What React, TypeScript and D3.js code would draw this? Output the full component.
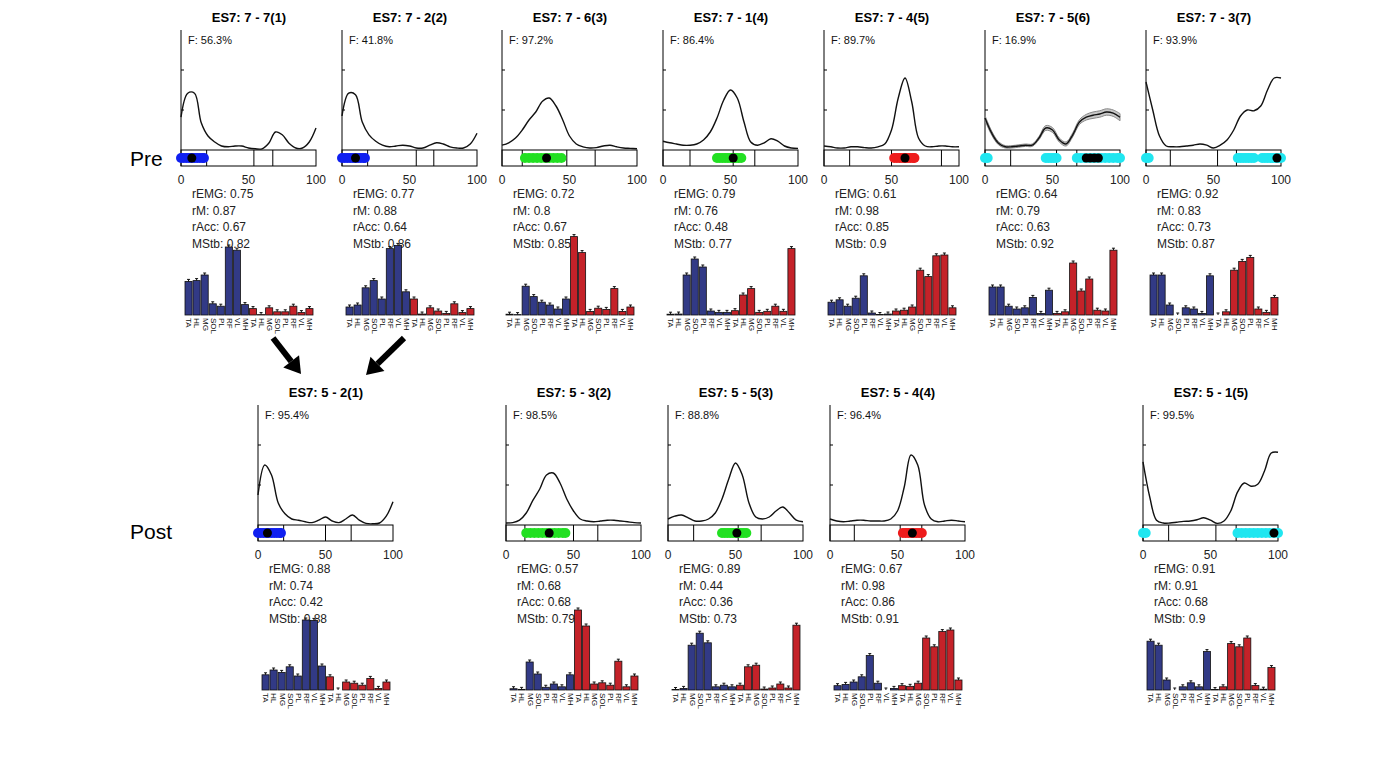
import React from "react";
import * as d3 from "d3";

// ---------- shared ----------
const phase = [0, 5, 10, 15, 20, 25, 30, 35, 40, 45, 50, 55, 60, 65, 70, 75, 80, 85, 90, 95, 100];
const muscles = ["TA", "HL", "MG", "SOL", "PL", "RF", "VL", "MH"];
const barLabels = [...muscles, ...muscles];
const xTicks = [0, 50, 100];
const yTicks = [1, 2];

// ---------- Pre row ----------
const preTitles = ["ES7: 7 - 7(1)", "ES7: 7 - 2(2)", "ES7: 7 - 6(3)", "ES7: 7 - 1(4)", "ES7: 7 - 4(5)", "ES7: 7 - 5(6)", "ES7: 7 - 3(7)"];
const preF = ["56.3", "41.8", "97.2", "86.4", "89.7", "16.9", "93.9"];
const preREMG = [0.75, 0.77, 0.72, 0.79, 0.61, 0.64, 0.92];
const preRM = [0.87, 0.88, 0.8, 0.76, 0.98, 0.79, 0.83];
const preRAcc = [0.67, 0.64, 0.67, 0.48, 0.85, 0.63, 0.73];
const preMStb = [0.82, 0.86, 0.85, 0.77, 0.9, 0.92, 0.87];

const preCurve1 = [0.82, 1.42, 1.42, 0.68, 0.35, 0.2, 0.1, 0.08, 0.1, 0.1, 0.05, 0.03, 0.03, 0.17, 0.45, 0.38, 0.17, 0.05, 0.05, 0.2, 0.55];
const preCurve2 = [0.85, 1.42, 1.38, 0.7, 0.38, 0.22, 0.12, 0.08, 0.1, 0.12, 0.1, 0.05, 0.05, 0.12, 0.18, 0.15, 0.08, 0.05, 0.05, 0.15, 0.42];
const preCurve3 = [0.12, 0.18, 0.3, 0.5, 0.75, 0.95, 1.22, 1.3, 1.1, 0.75, 0.35, 0.15, 0.08, 0.05, 0.06, 0.1, 0.12, 0.08, 0.05, 0.04, 0.03];
const preCurve4 = [0.22, 0.18, 0.15, 0.12, 0.12, 0.15, 0.25, 0.45, 0.8, 1.25, 1.5, 1.3, 0.7, 0.2, 0.12, 0.18, 0.28, 0.22, 0.1, 0.05, 0.04];
const preCurve5 = [0.1, 0.08, 0.05, 0.05, 0.08, 0.08, 0.06, 0.05, 0.08, 0.15, 0.5, 1.3, 1.8, 1.2, 0.3, 0.1, 0.08, 0.1, 0.1, 0.08, 0.08];
const preCurve6 = [0.8, 0.42, 0.17, 0.08, 0.08, 0.1, 0.12, 0.12, 0.3, 0.55, 0.5, 0.25, 0.15, 0.38, 0.7, 0.82, 0.87, 0.9, 0.95, 0.92, 0.82];
const preSd6 = [0.06, 0.05, 0.04, 0.03, 0.03, 0.03, 0.03, 0.03, 0.04, 0.06, 0.06, 0.05, 0.05, 0.05, 0.06, 0.07, 0.08, 0.08, 0.08, 0.08, 0.09];
const preCurve7 = [1.7, 1.0, 0.35, 0.1, 0.08, 0.08, 0.1, 0.12, 0.15, 0.12, 0.05, 0.12, 0.25, 0.5, 0.85, 1.0, 0.98, 1.1, 1.5, 1.8, 1.8];

const preBars1 = [0.42, 0.43, 0.5, 0.14, 0.11, 0.85, 0.81, 0.13, 0.08, 0.005, 0.09, 0.04, 0.04, 0.11, 0.03, 0.08];
const preBars2 = [0.1, 0.125, 0.34, 0.43, 0.2, 0.83, 0.87, 0.29, 0.2, 0.012, 0.09, 0.05, 0.02, 0.14, 0.03, 0.08];
const preBars3 = [0.01, 0.005, 0.36, 0.23, 0.16, 0.125, 0.075, 0.2, 0.98, 0.78, 0.045, 0.085, 0.07, 0.33, 0.045, 0.1];
const preBars4 = [0.01, 0.012, 0.5, 0.7, 0.6, 0.05, 0.033, 0.033, 0.054, 0.25, 0.33, 0.033, 0.046, 0.11, 0.046, 0.83];
const preBars5 = [0.16, 0.19, 0.11, 0.21, 0.49, 0.025, 0.006, 0.012, 0.05, 0.06, 0.1, 0.56, 0.48, 0.74, 0.75, 0.09];
const preBars6 = [0.35, 0.35, 0.11, 0.075, 0.09, 0.22, 0.02, 0.31, 0.02, 0.04, 0.65, 0.3, 0.45, 0.06, 0.05, 0.81];
const preBars7 = [0.5, 0.5, 0.125, 0.0, 0.09, 0.075, 0.02, 0.49, 0.0, 0.04, 0.56, 0.67, 0.72, 0.075, 0.033, 0.22];

const preDots1 = [0, 2, 4, 6, 8, 10, 12, 14, 16, 17];
const preDots2 = [0, 2, 4, 6, 8, 10, 12, 14, 16, 17];
const preDots3 = [17, 20, 23, 26, 29, 32, 35, 38, 41, 44];
const preDots4 = [40, 42, 44, 46, 48, 50, 52, 54, 56, 58];
const preDots5 = [52, 54, 56, 58, 60, 62, 64, 66, 67];
const preDots6 = [0, 2, 45, 47, 49, 51, 53, 68, 71, 74, 77, 80, 83, 86, 89, 92, 95, 98, 100];
const preDots7 = [0, 2, 68, 70, 72, 74, 76, 78, 80, 86, 88, 90, 92, 94, 96, 98, 100];
const preMeans = [[8], [10], [33], [52], [60], [75, 78, 81, 84], [97]];
const preDotColors = ["blue", "blue", "green", "green", "red", "cyan", "cyan"];
const preGait = [[19, 54, 68], [19, 55, 68], [15, 48, 69], [20, 52, 68], [19, 50, 87], [19, 53, 68], [18, 53, 67]];

// ---------- Post row ----------
const postTitles = ["ES7: 5 - 2(1)", "ES7: 5 - 3(2)", "ES7: 5 - 5(3)", "ES7: 5 - 4(4)", "ES7: 5 - 1(5)"];
const postF = ["95.4", "98.5", "88.8", "96.4", "99.5"];
const postREMG = [0.88, 0.57, 0.89, 0.67, 0.91];
const postRM = [0.74, 0.68, 0.44, 0.98, 0.91];
const postRAcc = [0.42, 0.68, 0.36, 0.86, 0.68];
const postMStb = [0.88, 0.79, 0.73, 0.91, 0.9];

const postCurve1 = [0.75, 1.5, 1.25, 0.55, 0.28, 0.15, 0.12, 0.08, 0.06, 0.12, 0.2, 0.1, 0.06, 0.15, 0.25, 0.12, 0.04, 0.03, 0.05, 0.22, 0.58];
const postCurve2 = [0.05, 0.06, 0.12, 0.3, 0.62, 0.9, 1.25, 1.3, 1.05, 0.65, 0.35, 0.15, 0.1, 0.08, 0.1, 0.12, 0.12, 0.1, 0.08, 0.06, 0.05];
const postCurve3 = [0.15, 0.22, 0.25, 0.18, 0.1, 0.1, 0.15, 0.3, 0.65, 1.15, 1.55, 1.25, 0.55, 0.2, 0.15, 0.2, 0.35, 0.45, 0.3, 0.12, 0.08];
const postCurve4 = [0.15, 0.1, 0.08, 0.1, 0.12, 0.12, 0.1, 0.1, 0.1, 0.15, 0.35, 0.95, 1.75, 1.5, 0.5, 0.15, 0.08, 0.1, 0.12, 0.1, 0.08];
const postCurve5 = [1.58, 0.7, 0.12, 0.05, 0.05, 0.07, 0.09, 0.1, 0.13, 0.18, 0.12, 0.04, 0.1, 0.35, 0.82, 1.05, 0.97, 1.02, 1.35, 1.8, 1.82];

const postBars1 = [0.19, 0.25, 0.22, 0.29, 0.175, 0.875, 0.87, 0.3, 0.165, 0.0, 0.1, 0.085, 0.06, 0.145, 0.02, 0.1];
const postBars2 = [0.016, 0.008, 0.35, 0.2, 0.034, 0.075, 0.04, 0.19, 1.0, 0.8, 0.075, 0.09, 0.06, 0.36, 0.04, 0.175];
const postBars3 = [0.006, 0.02, 0.56, 0.71, 0.59, 0.04, 0.06, 0.04, 0.06, 0.29, 0.31, 0.012, 0.025, 0.075, 0.025, 0.81];
const postBars4 = [0.054, 0.07, 0.1, 0.165, 0.43, 0.085, 0.0, 0.02, 0.054, 0.046, 0.085, 0.65, 0.54, 0.73, 0.75, 0.125];
const postBars5 = [0.61, 0.56, 0.125, 0.0, 0.04, 0.09, 0.04, 0.48, 0.005, 0.04, 0.58, 0.54, 0.65, 0.055, 0.01, 0.28];

const postDots1 = [0, 2, 4, 6, 8, 10, 12, 14, 16, 17];
const postDots2 = [15, 18, 21, 24, 27, 30, 33, 36, 39, 42, 44];
const postDots3 = [40, 42, 44, 46, 48, 50, 52, 54, 56, 58];
const postDots4 = [54, 56, 58, 60, 62, 64, 66, 68];
const postDots5 = [0, 2, 70, 73, 76, 79, 82, 85, 88, 91, 94, 97, 100];
const postMeans = [[7], [32], [51], [61], [97]];
const postDotColors = ["blue", "green", "green", "red", "cyan"];
const postGait = [[19, 50, 69], [14, 50, 68], [19, 52, 69], [18, 52, 68], [19, 54, 69]];

// ---------- tables ----------
type PanelData = {
  title: string; f: string; rEMG: number; rM: number; rAcc: number; mStb: number;
  curve: number[]; sd?: number[]; bars: number[]; dots: number[]; means: number[]; dotColor: string; gait: number[];
};

const preCurves = [preCurve1, preCurve2, preCurve3, preCurve4, preCurve5, preCurve6, preCurve7];
const preBars = [preBars1, preBars2, preBars3, preBars4, preBars5, preBars6, preBars7];
const preDots = [preDots1, preDots2, preDots3, preDots4, preDots5, preDots6, preDots7];
const postCurves = [postCurve1, postCurve2, postCurve3, postCurve4, postCurve5];
const postBars = [postBars1, postBars2, postBars3, postBars4, postBars5];
const postDots = [postDots1, postDots2, postDots3, postDots4, postDots5];

const prePanels: PanelData[] = preTitles.map((t, i) => ({
  title: t, f: preF[i], rEMG: preREMG[i], rM: preRM[i], rAcc: preRAcc[i], mStb: preMStb[i],
  curve: preCurves[i], sd: i === 5 ? preSd6 : undefined, bars: preBars[i], dots: preDots[i],
  means: preMeans[i], dotColor: preDotColors[i], gait: preGait[i],
}));
const postPanels: PanelData[] = postTitles.map((t, i) => ({
  title: t, f: postF[i], rEMG: postREMG[i], rM: postRM[i], rAcc: postRAcc[i], mStb: postMStb[i],
  curve: postCurves[i], bars: postBars[i], dots: postDots[i],
  means: postMeans[i], dotColor: postDotColors[i], gait: postGait[i],
}));

// ---------- layout ----------
const PRE_X = [181, 342, 502, 663, 824, 985, 1146];
const POST_X = [258, 506, 668, 830, 1143];
const PRE_TOP = 0;
const POST_TOP = 375;
const AX_W = 135;
const FONT = "Arial, 'Liberation Sans', Helvetica, sans-serif";
const DOT_FILL: Record<string, string> = { blue: "#1020f0", green: "#22e022", red: "#ee1c1c", cyan: "#20e6f0" };
const BLUE = "#323a86";
const RED = "#c42229";

function Panel({ p, x0, top }: { p: PanelData; x0: number; top: number }) {
  const x = d3.scaleLinear().domain([0, 100]).range([x0, x0 + AX_W]);
  const y = d3.scaleLinear().domain([0, 3]).range([top + 150, top + 30]);
  const line = d3.line<number>().x((_, i) => x(phase[i])).y((d) => y(d)).curve(d3.curveCatmullRom.alpha(0.5));
  const area = p.sd
    ? d3.area<number>().x((_, i) => x(phase[i])).y0((d, i) => y(d - p.sd![i])).y1((d, i) => y(d + p.sd![i])).curve(d3.curveCatmullRom.alpha(0.5))
    : null;
  const xb = d3.scaleBand<string>().domain(barLabels.map((_, i) => String(i))).range([x0 + 4, x0 + 132]).paddingInner(0.12);
  const yb = d3.scaleLinear().domain([0, 1]).range([top + 315, top + 235]);
  const boxTop = top + 150;
  const boxBot = top + 166;
  const dotY = top + 158;
  const stats = [`rEMG: ${p.rEMG}`, `rM: ${p.rM}`, `rAcc: ${p.rAcc}`, `MStb: ${p.mStb}`];
  return (
    <g fontFamily={FONT}>
      <text x={x0 + 68} y={top + 22} textAnchor="middle" fontWeight="bold" fontSize={13}>{p.title}</text>
      {/* y axis */}
      <line x1={x0} x2={x0} y1={top + 30} y2={boxBot} stroke="#000" strokeWidth={1} />
      {yTicks.map((t) => (
        <line key={t} x1={x0} x2={x0 + 3} y1={y(t)} y2={y(t)} stroke="#000" strokeWidth={1} />
      ))}
      <text x={x0 + 7} y={top + 44} fontSize={11} fill="#111">{`F: ${p.f}%`}</text>
      {area && <path d={area(p.curve) || ""} fill="#c8c8c8" stroke="#888" strokeWidth={1} />}
      <path d={line(p.curve) || ""} fill="none" stroke="#111" strokeWidth={1.4} />
      {/* phase box */}
      <rect x={x0} y={boxTop} width={AX_W} height={boxBot - boxTop} fill="none" stroke="#000" strokeWidth={1} />
      {p.gait.map((g, i) => (
        <line key={i} x1={x(g)} x2={x(g)} y1={boxTop} y2={boxBot} stroke="#000" strokeWidth={1} />
      ))}
      {p.dots.map((d, i) => (
        <circle key={i} cx={x(d)} cy={dotY} r={5} fill={DOT_FILL[p.dotColor]} />
      ))}
      {p.means.map((d, i) => (
        <circle key={"m" + i} cx={x(d)} cy={dotY} r={4.5} fill="#000" />
      ))}
      {xTicks.map((t) => (
        <text key={t} x={x(t)} y={top + 184} textAnchor="middle" fontSize={12} fill="#222">{t}</text>
      ))}
      {stats.map((s, i) => (
        <text key={s} x={x0 + 11} y={top + 198 + i * 16.7} fontSize={12} fill="#222">{s}</text>
      ))}
      {/* bars */}
      {p.bars.map((v, i) => {
        const bx = xb(String(i))!;
        const bw = xb.bandwidth();
        const yt = yb(v);
        return (
          <g key={i}>
            <rect x={bx} y={yt} width={bw} height={yb(0) - yt} fill={i < 8 ? BLUE : RED} stroke="#111" strokeWidth={0.8} />
            <line x1={bx + bw / 2} x2={bx + bw / 2} y1={yt} y2={yt - 2} stroke="#111" strokeWidth={1} />
            <line x1={bx + bw / 2 - 1.5} x2={bx + bw / 2 + 1.5} y1={yt - 2} y2={yt - 2} stroke="#111" strokeWidth={1} />
          </g>
        );
      })}
      {barLabels.map((l, i) => {
        const cx = xb(String(i))! + xb.bandwidth() / 2;
        const ty = top + 318;
        return (
          <text key={i} x={cx} y={ty} fontSize={8} textAnchor="start" dominantBaseline="middle" transform={`rotate(90 ${cx} ${ty})`} fill="#111">{l}</text>
        );
      })}
    </g>
  );
}

function Arrow({ x1, y1, x2, y2 }: { x1: number; y1: number; x2: number; y2: number }) {
  const ang = Math.atan2(y2 - y1, x2 - x1);
  const L = 16, W = 10;
  const bx = x2 - L * Math.cos(ang), by = y2 - L * Math.sin(ang);
  const px = -Math.sin(ang), py = Math.cos(ang);
  const pts = [[x2, y2], [bx + W * px, by + W * py], [bx - W * px, by - W * py]].map((q) => q.join(",")).join(" ");
  return (
    <g>
      <line x1={x1} y1={y1} x2={bx} y2={by} stroke="#000" strokeWidth={6} />
      <polygon points={pts} fill="#000" />
    </g>
  );
}

export default function App() {
  return (
    <svg width={1400} height={775} style={{ position: "absolute", left: 0, top: 0, background: "#fff" }}>
      <rect x={0} y={0} width={1400} height={775} fill="#fff" />
      <text x={130} y={166} fontSize={21} fontFamily={FONT}>Pre</text>
      <text x={130} y={539} fontSize={21} fontFamily={FONT}>Post</text>
      {prePanels.map((p, i) => (
        <Panel key={"pre" + i} p={p} x0={PRE_X[i]} top={PRE_TOP} />
      ))}
      {postPanels.map((p, i) => (
        <Panel key={"post" + i} p={p} x0={POST_X[i]} top={POST_TOP} />
      ))}
      <Arrow x1={PRE_X[0] + 92} y1={PRE_TOP + 338} x2={PRE_X[0] + 120} y2={PRE_TOP + 374} />
      <Arrow x1={PRE_X[1] + 62} y1={PRE_TOP + 338} x2={PRE_X[1] + 24} y2={PRE_TOP + 375} />
    </svg>
  );
}
